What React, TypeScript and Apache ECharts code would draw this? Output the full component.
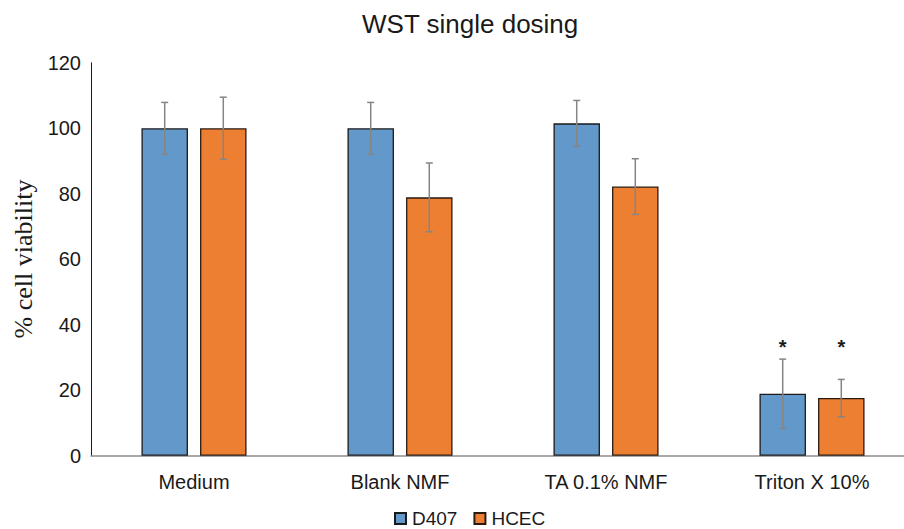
import React, { useEffect, useRef } from "react";
import * as echarts from "echarts";

const categories = ["Medium", "Blank NMF", "TA 0.1% NMF", "Triton X 10%"];
const seriesNames = ["D407", "HCEC"];
const d407 = [100, 100, 101.5, 18.9];
const d407Err = [7.9, 7.9, 7.0, 10.6];
const hcec = [100, 78.9, 82.2, 17.6];
const hcecErr = [9.5, 10.5, 8.5, 5.7];
const d407Sig = ["", "", "", "*"];
const hcecSig = ["", "", "", "*"];
const starLevel = 33.3;
const yTicks = { min: 0, max: 120, interval: 20 };

const BLUE = "#6398CA";
const ORANGE = "#ED7F32";
const CAT_GAP = 0.49;
const BAR_GAP = 0.26;

function errSeries(name: string, values: number[], errs: number[], sig: string[], side: number) {
  return {
    type: "custom",
    name: name + " error",
    z: 4,
    silent: true,
    encode: { x: 0, y: 1 },
    data: values.map((v, i) => [i, v, errs[i]]),
    renderItem: (params: any, api: any) => {
      const idx = api.value(0);
      const v = api.value(1);
      const e = api.value(2);
      const s = sig[idx];
      const band = api.size([1, 0])[0];
      const bw = (band * (1 - CAT_GAP)) / (2 + BAR_GAP);
      const off = (side * (bw + bw * BAR_GAP)) / 2;
      const top = api.coord([idx, v + e]);
      const bot = api.coord([idx, v - e]);
      const x = top[0] + off;
      const st = { stroke: "#858585", lineWidth: 1.5 };
      const children: any[] = [
        { type: "line", shape: { x1: x, y1: top[1], x2: x, y2: bot[1] }, style: st },
        { type: "line", shape: { x1: x - 3.5, y1: top[1], x2: x + 3.5, y2: top[1] }, style: st },
        { type: "line", shape: { x1: x - 3.5, y1: bot[1], x2: x + 3.5, y2: bot[1] }, style: st },
      ];
      if (s) {
        const sp = api.coord([idx, starLevel]);
        children.push({
          type: "text",
          x: x,
          y: sp[1],
          style: {
            text: s,
            fill: "#1a1a1a",
            font: "bold 20px 'Liberation Sans', Arial, sans-serif",
            textAlign: "center",
            textVerticalAlign: "middle",
          },
        });
      }
      return { type: "group", children };
    },
  };
}

export default function App() {
  const ref = useRef<HTMLDivElement>(null);
  useEffect(() => {
    if (!ref.current) return;
    const chart = echarts.init(ref.current, undefined, { renderer: "svg" });
    const font = "'Liberation Sans', Arial, Helvetica, sans-serif";
    chart.setOption({
      animation: false,
      backgroundColor: "#ffffff",
      title: {
        text: "WST single dosing",
        left: 362,
        top: 11,
        padding: 0,
        textStyle: { fontSize: 26, fontWeight: "normal", color: "#1a1a1a", fontFamily: font },
      },
      legend: {
        data: seriesNames,
        left: 394,
        top: 509,
        padding: 0,
        icon: "rect",
        itemWidth: 11,
        itemHeight: 11,
        itemGap: 16,
        textStyle: { fontSize: 19, color: "#1a1a1a", fontFamily: font, padding: [0, 0, 0, 1] },
      },
      graphic: [
        {
          type: "text",
          x: 23,
          y: 259,
          rotation: Math.PI / 2,
          style: {
            text: "% cell viability",
            fill: "#1a1a1a",
            font: "26px 'Liberation Serif', 'Times New Roman', serif",
            textAlign: "center",
            textVerticalAlign: "middle",
          },
        },
      ],
      grid: {
        left: 91,
        right: -11,
        top: 62.8,
        bottom: 73.3,
        containLabel: false,
        outerBoundsMode: "none",
      },
      xAxis: {
        type: "category",
        data: categories,
        axisLine: { show: true, lineStyle: { color: "#8c8c8c", width: 1.5 } },
        axisTick: { show: false },
        axisLabel: { fontSize: 20, color: "#1a1a1a", fontFamily: font, margin: 16, interval: 0 },
        splitLine: { show: false },
      },
      yAxis: {
        type: "value",
        min: yTicks.min,
        max: yTicks.max,
        interval: yTicks.interval,
        axisLine: { show: true, lineStyle: { color: "#1a1a1a", width: 1 } },
        axisTick: { show: false },
        axisLabel: { fontSize: 20, color: "#1a1a1a", fontFamily: font, margin: 10 },
        splitLine: { show: false },
      },
      series: [
        {
          type: "bar",
          name: seriesNames[0],
          data: d407,
          barGap: BAR_GAP * 100 + "%",
          barCategoryGap: CAT_GAP * 100 + "%",
          itemStyle: { color: BLUE, borderColor: "#1a1a1a", borderWidth: 1.3 },
        },
        {
          type: "bar",
          name: seriesNames[1],
          data: hcec,
          barGap: BAR_GAP * 100 + "%",
          barCategoryGap: CAT_GAP * 100 + "%",
          itemStyle: { color: ORANGE, borderColor: "#2a1a10", borderWidth: 1.3 },
        },
        errSeries(seriesNames[0], d407, d407Err, d407Sig, -1),
        errSeries(seriesNames[1], hcec, hcecErr, hcecSig, 1),
      ],
    });
    return () => chart.dispose();
  }, []);
  return (
    <div
      ref={ref}
      style={{ position: "fixed", left: 0, top: 0, width: 904, height: 529, background: "#fff" }}
    />
  );
}
